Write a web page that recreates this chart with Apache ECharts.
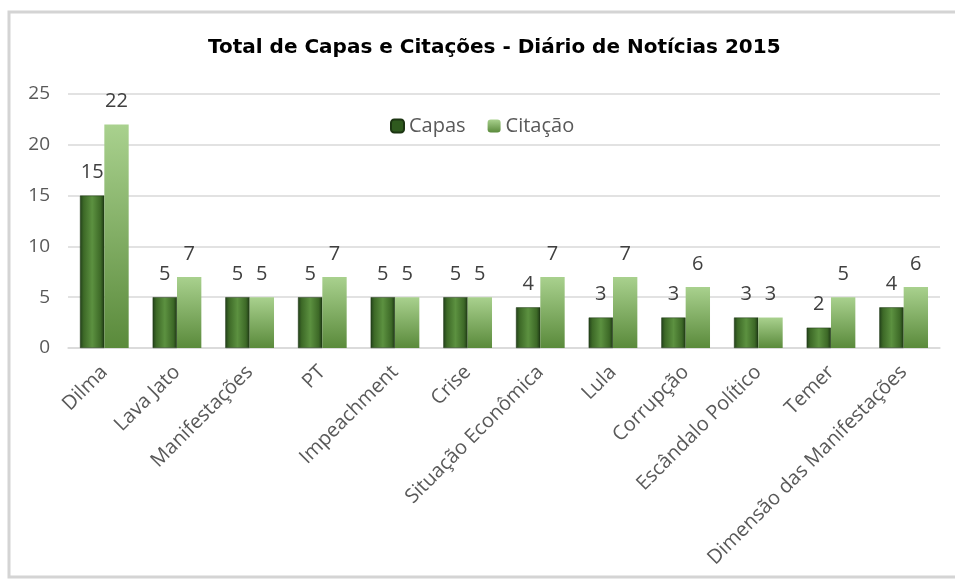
<!DOCTYPE html>
<html><head><meta charset="utf-8">
<script src="https://cdn.jsdelivr.net/npm/echarts@6/dist/echarts.min.js"></script>
<style>html,body{margin:0;padding:0;background:#fff}#c{width:955px;height:580px}</style>
</head><body><div id="c"></div>
<script>
const categories = ['Dilma','Lava Jato','Manifestações','PT','Impeachment','Crise','Situação Econômica','Lula','Corrupção','Escândalo Político','Temer','Dimensão das Manifestações'];
const capas = [15,5,5,5,5,5,4,3,3,3,2,4];
const citacao = [22,7,5,7,5,5,7,7,6,3,5,6];
const yTicks = [0,5,10,15,20,25];

const chart = echarts.init(document.getElementById('c'), null, {renderer:'canvas'});
const font = "'Open Sans', 'Liberation Sans', sans-serif";
const capasColor = new echarts.graphic.LinearGradient(0,0,1,0,[
  {offset:0,color:'#22401a'},{offset:0.15,color:'#3d6927'},{offset:0.5,color:'#5c9140'},{offset:0.85,color:'#3d6927'},{offset:1,color:'#1d3714'}]);
const citColor = new echarts.graphic.LinearGradient(0,0,0,1,[
  {offset:0,color:'#a9d18e'},{offset:1,color:'#5a8a3b'}]);
chart.setOption({
  animation:false,
  backgroundColor:'#fff',
  graphic:[{type:'rect',shape:{x:9,y:12,width:960,height:565},style:{fill:'none',stroke:'#d4d4d4',lineWidth:3},z:-1}],
  title:{text:'Total de Capas e Citações - Diário de Notícias 2015',left:203,top:33,
    textStyle:{fontFamily:"'DejaVu Sans', sans-serif",fontWeight:'bold',fontSize:20,color:'#000'}},
  legend:{left:385,top:111,itemWidth:13,itemHeight:13,itemGap:22,
    textStyle:{fontFamily:font,fontSize:20,color:'#595959'},
    data:[{name:'Capas',itemStyle:{color:'#2f5a1e'}},{name:'Citação',itemStyle:{color:citColor}}]},
  grid:{left:68,right:15,top:94,bottom:232,containLabel:false},
  xAxis:{type:'category',data:categories,
    axisLine:{lineStyle:{color:'#d9d9d9',width:1.5}},axisTick:{show:false},
    axisLabel:{rotate:45,interval:0,fontFamily:font,fontSize:20,color:'#595959',margin:21}},
  yAxis:{type:'value',min:0,max:25,interval:5,
    axisLine:{show:false},axisTick:{show:false},
    splitLine:{lineStyle:{color:'#d9d9d9',width:1.5}},
    axisLabel:{fontFamily:font,fontSize:19,color:'#595959',margin:18,
      formatter:v=>yTicks.includes(v)?String(v):''}},
  series:[
    {name:'Capas',type:'bar',data:capas,barGap:'0%',barCategoryGap:'33%',
      itemStyle:{color:capasColor,borderColor:'#1c3512',borderWidth:0.5},
      label:{show:true,position:'top',distance:13,fontFamily:font,fontSize:20,color:'#404040'}},
    {name:'Citação',type:'bar',data:citacao,barGap:'0%',barCategoryGap:'33%',
      itemStyle:{color:citColor},
      label:{show:true,position:'top',distance:13,fontFamily:font,fontSize:20,color:'#404040'}}
  ]
});
</script></body></html>
